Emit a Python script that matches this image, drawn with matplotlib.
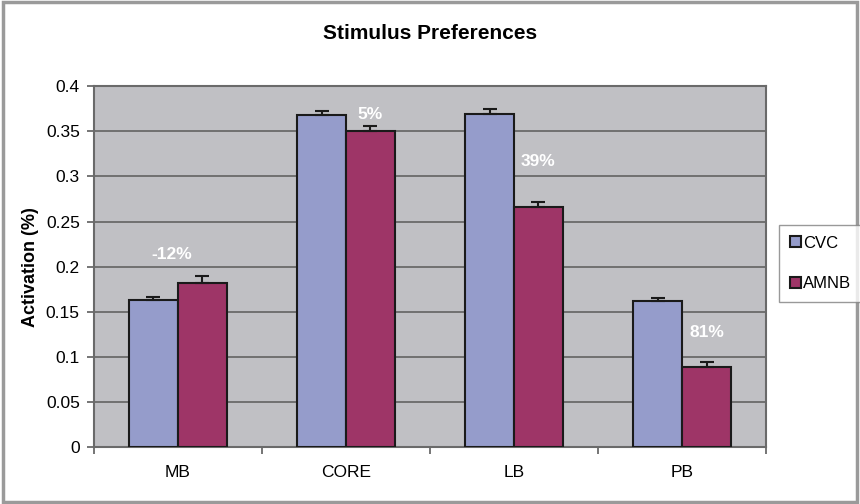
import matplotlib.pyplot as plt
import numpy as np

plt.rcParams['font.family'] = ['Liberation Sans', 'DejaVu Sans']

regions = ["MB", "CORE", "LB", "PB"]
cvc = [0.1625, 0.368, 0.369, 0.162]
amnb = [0.182, 0.350, 0.266, 0.089]
cvc_err = [0.0033, 0.0048, 0.0055, 0.0037]
amnb_err = [0.0074, 0.0055, 0.0055, 0.0052]
pct_labels = ["-12%", "5%", "39%", "81%"]
pct_y = [0.213, 0.369, 0.316, 0.127]

fig = plt.figure(figsize=(8.6, 5.04), dpi=100)
ax = fig.add_axes([0.109, 0.113, 0.782, 0.716])
ax.set_facecolor("#C0C0C4")

x = np.arange(len(regions)) + 0.5
w = 0.29
z = np.zeros(len(regions))
ax.bar(x - w / 2, cvc, w, color="#959CCB", edgecolor="#1a1a1a", lw=1.5,
       yerr=[z, cvc_err], capsize=5, error_kw=dict(ecolor="#1a1a1a", elinewidth=1.5, capthick=1.5),
       label="CVC", zorder=3)
ax.bar(x + w / 2, amnb, w, color="#9E3567", edgecolor="#1a1a1a", lw=1.5,
       yerr=[z, amnb_err], capsize=5, error_kw=dict(ecolor="#1a1a1a", elinewidth=1.5, capthick=1.5),
       label="AMNB", zorder=3)

for i, t in enumerate(pct_labels):
    xi = x[i] + (0.0 if i == 0 else w / 2)
    ax.text(xi - (0.036 if i == 0 else 0), pct_y[i], t, color="white", fontsize=12.5,
            fontweight="bold", ha="center", va="center", zorder=4)

ax.set_xlim(0, 4)
ax.set_ylim(0, 0.4)
ax.set_yticks(np.arange(0, 0.401, 0.05))
ax.set_yticklabels(["0", "0.05", "0.1", "0.15", "0.2", "0.25", "0.3", "0.35", "0.4"], fontsize=12.5)
ax.yaxis.grid(True, color="#6a6a6a", lw=1.3, zorder=1)
ax.set_xticks(x)
ax.set_xticklabels(regions, fontsize=12.5)
ax.tick_params(axis="x", length=0, pad=13)
ax.set_xticks(np.arange(0, 5), minor=True)
ax.tick_params(axis="x", which="minor", length=5, color="#6a6a6a", width=1.3)
ax.tick_params(axis="y", length=5, color="#6a6a6a", width=1.3, pad=5)
for s in ax.spines.values():
    s.set_color("#6a6a6a")
    s.set_linewidth(1.5)

ax.set_ylabel("Activation (%)", fontsize=13, fontweight="bold", labelpad=5)
fig.text(0.5, 0.934, "Stimulus Preferences", ha="center", va="center",
         fontsize=15, fontweight="bold")

leg = fig.legend(loc="upper left", bbox_to_anchor=(0.906, 0.554), fontsize=12,
                 frameon=True, fancybox=False, edgecolor="#808080",
                 handlelength=0.65, handleheight=0.65, handletextpad=0.15,
                 labelspacing=1.55, borderpad=0.65, borderaxespad=0)
leg.get_frame().set_linewidth(1.0)

border = plt.Rectangle((0.003, 0.003), 0.994, 0.994, transform=fig.transFigure,
                       fill=False, edgecolor="#9a9a9a", lw=2.5)
fig.patches.append(border)

fig.savefig("out.png", dpi=100)
